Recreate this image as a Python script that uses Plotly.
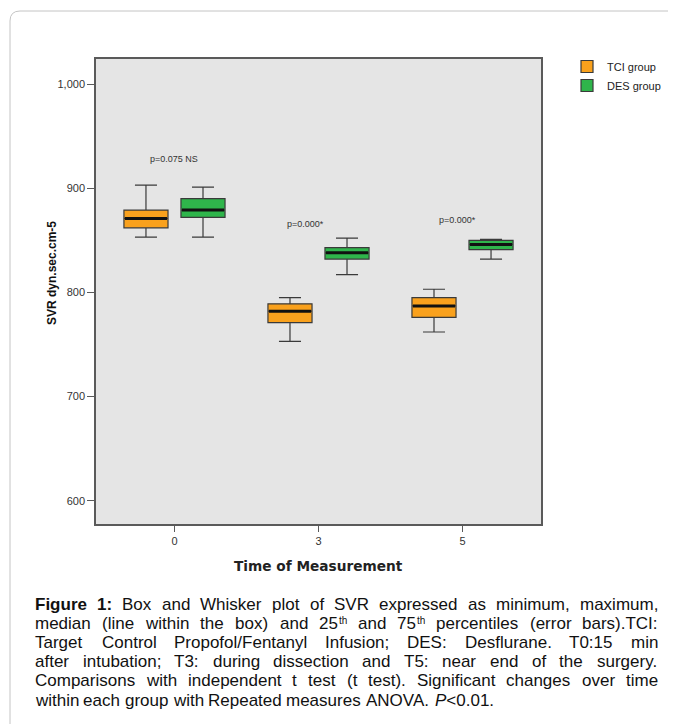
import re
import plotly.graph_objects as go

# ---------------- data ----------------
times = ["0", "3", "5"]

tci_low = [853, 753, 762]
tci_q1 = [862, 771, 776]
tci_med = [871, 782, 787]
tci_q3 = [879, 789, 795]
tci_high = [903, 795, 803]

des_low = [853, 817, 832]
des_q1 = [872, 832, 841]
des_med = [879, 838, 846]
des_q3 = [890, 843, 850]
des_high = [901, 852, 851]

p_labels = ["p=0.075 NS", "p=0.000*", "p=0.000*"]
p_label_y = [928, 866, 869]

caption_lines = [
    "<b>Figure</b> <b>1:</b> Box and Whisker plot of SVR expressed as minimum, maximum,",
    "median (line within the box) and 25<sup>th</sup> and 75<sup>th</sup> percentiles (error bars).TCI:",
    "Target Control Propofol/Fentanyl Infusion; DES: Desflurane. T0:15 min",
    "after intubation; T3: during dissection and T5: near end of the surgery.",
    "Comparisons with independent t test (t test). Significant changes over time",
    "within each group with Repeated measures ANOVA. <i>P</i>&lt;0.01.",
]

# ---------------- geometry (screen pixels; page body has an 8px margin) ----------------
OFF = 8
W, H = 676 - OFF, 724 - OFF
SL, SR, ST, SB = 96, 541, 59, 524          # plot area on screen
L, R, T, B = SL - OFF, SR - OFF, ST - OFF, SB - OFF


def pxx(sx):
    return (sx - OFF - L) / (R - L)


def pxy(sy):
    return (B - (sy - OFF)) / (B - T)


# Arial / Liberation Sans advance widths (1/1000 em)
REG = {" ": 278, "(": 333, ")": 333, "*": 389, ",": 278, "-": 333, ".": 278,
       "/": 278, ":": 278, ";": 278, "<": 584, "=": 584}
REG.update({d: 556 for d in "0123456789"})
REG.update(dict(zip("ABCDEFGHIJKLMNOPQRSTUVWXYZ",
                    [667, 667, 722, 722, 667, 611, 778, 722, 278, 500, 667, 556, 833,
                     722, 778, 667, 778, 722, 667, 611, 722, 667, 944, 667, 667, 611])))
REG.update(dict(zip("abcdefghijklmnopqrstuvwxyz",
                    [556, 556, 500, 556, 556, 278, 556, 556, 222, 222, 500, 222, 833,
                     556, 556, 556, 556, 333, 500, 278, 556, 500, 722, 500, 500, 500])))
BOLD = dict(REG)
BOLD.update({"F": 611, "i": 278, "g": 611, "u": 611, "r": 389, "e": 556, "1": 556, ":": 333})


def text_width(word, size):
    total = 0.0
    bold = False
    for tok in re.findall(r"</?\w+>|&lt;|.", word):
        if tok == "<b>":
            bold = True
        elif tok == "</b>":
            bold = False
        elif tok.startswith("<") and tok.endswith(">") and len(tok) > 1:
            pass
        else:
            ch = "<" if tok == "&lt;" else tok
            total += (BOLD if bold else REG).get(ch, 556)
    return total * size / 1000.0


ORANGE = "#f9a11d"
GREEN = "#2fb54b"
OUTLINE = "#3a3a3a"
GAP = 0.208

fig = go.Figure()

for name, color, lo, q1, md, q3, hi in [
    ("TCI group", ORANGE, tci_low, tci_q1, tci_med, tci_q3, tci_high),
    ("DES group", GREEN, des_low, des_q1, des_med, des_q3, des_high),
]:
    fig.add_trace(go.Box(
        name=name, x=times, q1=q1, median=md, q3=q3,
        lowerfence=lo, upperfence=hi,
        fillcolor=color, line=dict(color=OUTLINE, width=1.2),
        whiskerwidth=0.5, boxpoints=False, offsetgroup=name,
        hoverinfo="skip",
    ))

for name, md in [("TCI group", tci_med), ("DES group", des_med)]:
    fig.add_trace(go.Scatter(
        x=times, y=md, mode="markers", offsetgroup=name, showlegend=False,
        marker=dict(symbol="line-ew", size=42 / 1.4,
                    line=dict(color="#111111", width=3)),
        hoverinfo="skip",
    ))

annotations = []
for i, (lab, yv, xs) in enumerate(zip(p_labels, p_label_y, [0, -13, -5])):
    annotations.append(dict(
        x=i, y=yv, xref="x", yref="y", text=lab, showarrow=False,
        xshift=xs, font=dict(size=9, color="#333333",
                             family="Liberation Sans, Arial"),
    ))

annotations.append(dict(
    x=pxx(52), y=pxy(273), xref="paper", yref="paper",
    text="<b>SVR dyn.sec.cm-5</b>", textangle=-90, showarrow=False,
    xanchor="center", yanchor="middle",
    font=dict(size=12, color="#111111", family="Liberation Sans, Arial"),
))
annotations.append(dict(
    x=0.5, y=pxy(566), xref="paper", yref="paper",
    text="<b>Time of Measurement</b>", showarrow=False,
    xanchor="center", yanchor="middle",
    font=dict(size=13.7, color="#222222", family="DejaVu Sans"),
))

# justified caption, one annotation per word, baseline-aligned
CAP_SIZE = 17
SUP_SIZE = 10
SUP_RAISE = 6
DESC = 0.212
CAP_LEFT, CAP_RIGHT = 35, 658
LINE_STEP = 19.1
cap_font = dict(size=CAP_SIZE, color="#111111", family="Liberation Sans, Arial")


def add_text(txt, sx, baseline, size):
    annotations.append(dict(
        x=pxx(sx - 1), y=pxy(baseline + DESC * size), xref="paper", yref="paper",
        text=txt, showarrow=False, xanchor="left", yanchor="bottom", borderpad=0,
        font=dict(size=size, color="#111111", family="Liberation Sans, Arial"),
    ))


def split_sup(word):
    m = re.match(r"^(.*)<sup>(.*)</sup>$", word)
    return (m.group(1), m.group(2)) if m else (word, "")


space_w = REG[" "] * CAP_SIZE / 1000.0
for li, line in enumerate(caption_lines):
    baseline = 605.5 + LINE_STEP * li + 5.9
    words = [split_sup(w) for w in line.split(" ")]
    widths = [text_width(b, CAP_SIZE) + text_width(s, SUP_SIZE) for b, s in words]
    if li < len(caption_lines) - 1 and len(words) > 1:
        gap = (CAP_RIGHT - CAP_LEFT - sum(widths)) / (len(words) - 1)
    else:
        gap = space_w
    xcur = CAP_LEFT
    for (base, sup), ww in zip(words, widths):
        add_text(base, xcur, baseline, CAP_SIZE)
        if sup:
            add_text(sup, xcur + text_width(base, CAP_SIZE) + 0.5,
                     baseline - SUP_RAISE, SUP_SIZE)
        xcur += ww + gap

# outer rounded frame (screen coords)
x0, y0, r = 10, 11, 10
frame_path = (
    f"M {pxx(x0)} {pxy(760)} L {pxx(x0)} {pxy(y0 + r)} "
    f"Q {pxx(x0)} {pxy(y0)} {pxx(x0 + r)} {pxy(y0)} L {pxx(720)} {pxy(y0)}"
)

fig.update_layout(
    width=W, height=H,
    margin=dict(l=L, r=W - R, t=T, b=H - B, autoexpand=False),
    paper_bgcolor="white", plot_bgcolor="#e5e5e5",
    boxmode="group", boxgap=GAP, boxgroupgap=0.227,
    scattermode="group", scattergap=GAP,
    font=dict(family="Liberation Sans, Arial", color="#333333"),
    showlegend=True,
    legend=dict(
        x=pxx(567), y=pxy(52), xanchor="left", yanchor="top",
        bgcolor="rgba(0,0,0,0)", font=dict(size=11, color="#222222"),
        tracegroupgap=0,
    ),
    annotations=annotations,
    shapes=[dict(type="path", xref="paper", yref="paper", path=frame_path,
                 line=dict(color="#c4c4c4", width=1))],
)

fig.update_xaxes(
    type="category", categoryorder="array", categoryarray=times,
    range=[-0.545, 2.545], showgrid=False, zeroline=False,
    showline=True, mirror=True, linecolor="#5a5a5a", linewidth=1.6,
    ticks="outside", ticklen=6, tickcolor="#5a5a5a", tickwidth=1.2,
    tickfont=dict(size=11, color="#333333"),
)
fig.update_yaxes(
    range=[577.7, 1024], tickvals=[600, 700, 800, 900, 1000],
    tickformat=",", showgrid=False, zeroline=False,
    showline=True, mirror=True, linecolor="#5a5a5a", linewidth=1.6,
    ticks="outside", ticklen=7, tickcolor="#5a5a5a", tickwidth=1.2,
    tickfont=dict(size=11, color="#333333"),
)

fig.write_html("out.html")
